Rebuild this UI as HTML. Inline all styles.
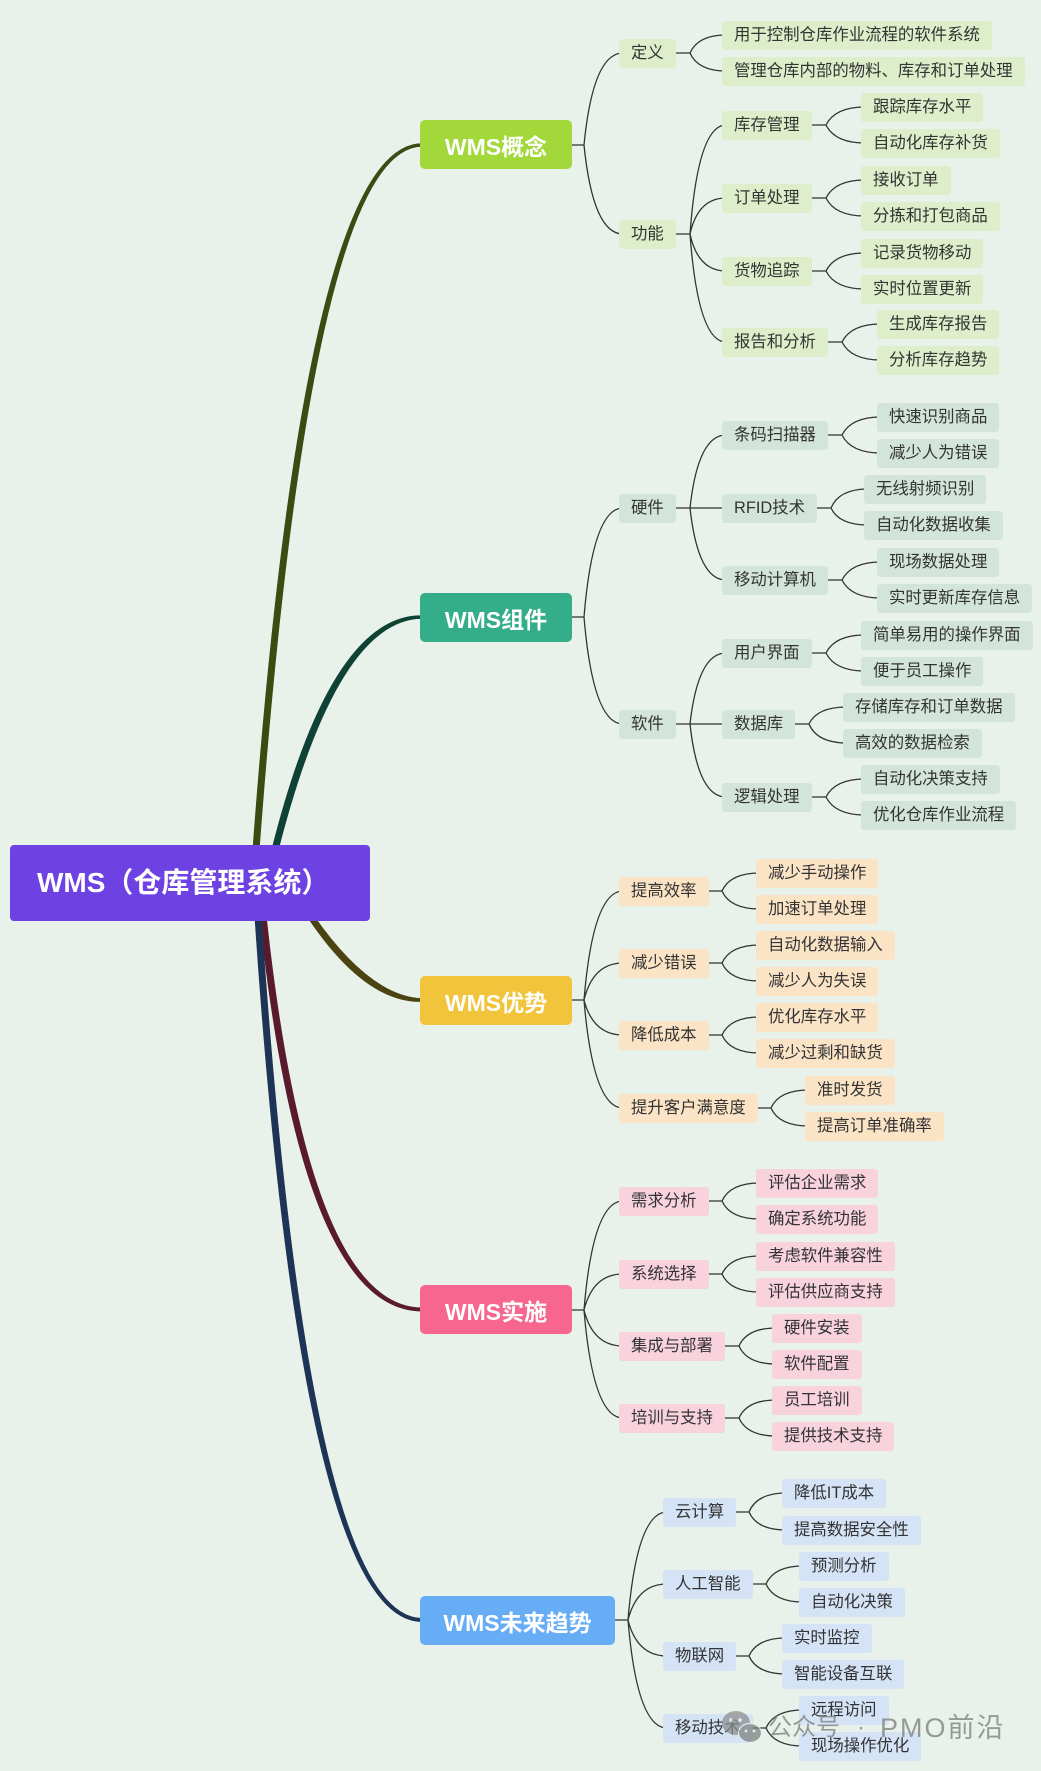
<!DOCTYPE html>
<html lang="zh">
<head>
<meta charset="utf-8">
<style>
  html,body{margin:0;padding:0;}
  body{width:1041px;height:1771px;background:#e9f2ea;position:relative;overflow:hidden;
       font-family:"Liberation Sans","Noto Sans CJK SC",sans-serif;}
  svg{position:absolute;left:0;top:0;}
  .n{position:absolute;height:29px;line-height:29px;padding:0 12px;font-size:16.4px;color:#333;
     border-radius:3px;white-space:nowrap;}
  .g{background:#deeecb;}
  .t{background:#d3e5db;}
  .y{background:#fbe4c6;}
  .p{background:#f8d3dd;}
  .b{background:#d5e3f6;}
  .m{position:absolute;left:420px;height:49px;border-radius:5px;color:#fff;font-weight:bold;
     font-size:23px;display:flex;align-items:center;justify-content:center;white-space:nowrap;}
  .root{position:absolute;left:10px;top:845px;width:333px;height:76px;padding-left:27px;
     background:#6e41e2;border-radius:4px;color:#fff;font-weight:bold;font-size:28px;
     line-height:76px;white-space:nowrap;}
  .wm{position:absolute;color:rgba(125,128,126,0.78);white-space:nowrap;line-height:30px;}
</style>
</head>
<body>
<svg width="1041" height="1771" viewBox="0 0 1041 1771">
  <!-- thick main branches -->
  <path d="M259.2 850.2 Q311.2 146.7 422 146.5 L422 143.5 Q304.8 143.3 252.8 849.8 Z" fill="#3d4a12" stroke="#3d4a12" stroke-width="0.6"/>
  <path d="M278.1 850.8 Q337.1 619.3 422 618.5 L422 615.5 Q330.9 614.7 271.9 849.2 Z" fill="#0e4234" stroke="#0e4234" stroke-width="0.6"/>
  <path d="M313.4 915.3 Q370.4 996.8 422 998.5 L422 1001.5 Q365.6 1003.2 308.6 918.7 Z" fill="#4b4312" stroke="#4b4312" stroke-width="0.6"/>
  <path d="M266.2 915.7 Q308.2 1307.2 422 1307.8 L422 1311.2 Q301.8 1311.0 259.8 916.3 Z" fill="#5a1a2e" stroke="#5a1a2e" stroke-width="0.6"/>
  <path d="M261.2 915.8 Q308.2 1618.3 422 1618.3 L422 1621.7 Q301.8 1621.9 254.8 916.2 Z" fill="#1e3456" stroke="#1e3456" stroke-width="0.6"/>

  <g fill="none" stroke="#333" stroke-width="1.3">
    <!-- 概念 -->
    <path d="M564 145H584 M584 145Q593 53 623 53 M584 145Q593 234 623 234"/>
    <path d="M668 53H690 M690 53Q698 35 726 35 M690 53Q698 71 726 71"/>
    <path d="M668 234H690 M690 234Q698 125 726 125 M690 234Q698 198 726 198 M690 234Q698 271 726 271 M690 234Q698 342 726 342"/>
    <path d="M804 125H826 M826 125Q835 107 865 107 M826 125Q835 143 865 143"/>
    <path d="M804 198H826 M826 198Q835 180 865 180 M826 198Q835 216 865 216"/>
    <path d="M804 271H826 M826 271Q835 253 865 253 M826 271Q835 289 865 289"/>
    <path d="M820 342H842 M842 342Q851 324 881 324 M842 342Q851 360 881 360"/>
    <!-- 组件 -->
    <path d="M564 617H584 M584 617Q593 508 623 508 M584 617Q593 724 623 724"/>
    <path d="M668 508H726 M690 508Q698 435 726 435 M690 508Q698 580 726 580"/>
    <path d="M820 435H842 M842 435Q851 417 881 417 M842 435Q851 453 881 453"/>
    <path d="M809 508H831 M831 508Q839 489 868 489 M831 508Q839 525 868 525"/>
    <path d="M820 580H842 M842 580Q851 562 881 562 M842 580Q851 598 881 598"/>
    <path d="M668 724H726 M690 724Q698 653 726 653 M690 724Q698 797 726 797"/>
    <path d="M804 653H826 M826 653Q835 635 865 635 M826 653Q835 671 865 671"/>
    <path d="M787 724H809 M809 724Q817 707 847 707 M809 724Q817 743 847 743"/>
    <path d="M804 797H826 M826 797Q835 779 865 779 M826 797Q835 815 865 815"/>
    <!-- 优势 -->
    <path d="M564 1000H584 M584 1000Q593 891 623 891 M584 1000Q593 963 623 963 M584 1000Q593 1035 623 1035 M584 1000Q593 1108 623 1108"/>
    <path d="M701 891H722 M722 891Q730 873 760 873 M722 891Q730 909 760 909"/>
    <path d="M701 963H722 M722 963Q730 945 760 945 M722 963Q730 981 760 981"/>
    <path d="M701 1035H722 M722 1035Q730 1017 760 1017 M722 1035Q730 1053 760 1053"/>
    <path d="M750 1108H771 M771 1108Q779 1090 809 1090 M771 1108Q779 1126 809 1126"/>
    <!-- 实施 -->
    <path d="M564 1310H584 M584 1310Q593 1201 623 1201 M584 1310Q593 1274 623 1274 M584 1310Q593 1346 623 1346 M584 1310Q593 1418 623 1418"/>
    <path d="M701 1201H722 M722 1201Q730 1183 760 1183 M722 1201Q730 1219 760 1219"/>
    <path d="M701 1274H722 M722 1274Q730 1256 760 1256 M722 1274Q730 1292 760 1292"/>
    <path d="M717 1346H739 M739 1346Q747 1328 776 1328 M739 1346Q747 1364 776 1364"/>
    <path d="M717 1418H739 M739 1418Q747 1400 776 1400 M739 1418Q747 1436 776 1436"/>
    <!-- 未来趋势 -->
    <path d="M607 1620H628 M628 1620Q637 1512 667 1512 M628 1620Q637 1584 667 1584 M628 1620Q637 1656 667 1656 M628 1620Q637 1728 667 1728"/>
    <path d="M728 1512H749 M749 1512Q757 1493 786 1493 M749 1512Q757 1530 786 1530"/>
    <path d="M745 1584H766 M766 1584Q774 1566 803 1566 M766 1584Q774 1602 803 1602"/>
    <path d="M728 1656H749 M749 1656Q757 1638 786 1638 M749 1656Q757 1674 786 1674"/>
    <path d="M745 1728H766 M766 1728Q774 1710 803 1710 M766 1728Q774 1746 803 1746"/>
  </g>
</svg>

<!-- root -->
<div class="root">WMS（仓库管理系统）</div>

<!-- main nodes -->
<div class="m" style="top:120px;width:152px;background:#a3d83b;">WMS概念</div>
<div class="m" style="top:593px;width:152px;background:#34ae89;">WMS组件</div>
<div class="m" style="top:976px;width:152px;background:#f1c43b;">WMS优势</div>
<div class="m" style="top:1285px;width:152px;background:#f6668f;">WMS实施</div>
<div class="m" style="top:1596px;width:195px;background:#67adf6;">WMS未来趋势</div>

<!-- 概念 -->
<div class="n g" style="left:619px;top:38.5px;">定义</div>
<div class="n g" style="left:619px;top:219.5px;">功能</div>
<div class="n g" style="left:722px;top:20.5px;">用于控制仓库作业流程的软件系统</div>
<div class="n g" style="left:722px;top:56.5px;">管理仓库内部的物料、库存和订单处理</div>
<div class="n g" style="left:722px;top:110.5px;">库存管理</div>
<div class="n g" style="left:722px;top:183.5px;">订单处理</div>
<div class="n g" style="left:722px;top:256.5px;">货物追踪</div>
<div class="n g" style="left:722px;top:327.5px;">报告和分析</div>
<div class="n g" style="left:861px;top:92.5px;">跟踪库存水平</div>
<div class="n g" style="left:861px;top:128.5px;">自动化库存补货</div>
<div class="n g" style="left:861px;top:165.5px;">接收订单</div>
<div class="n g" style="left:861px;top:201.5px;">分拣和打包商品</div>
<div class="n g" style="left:861px;top:238.5px;">记录货物移动</div>
<div class="n g" style="left:861px;top:274.5px;">实时位置更新</div>
<div class="n g" style="left:877px;top:309.5px;">生成库存报告</div>
<div class="n g" style="left:877px;top:345.5px;">分析库存趋势</div>

<!-- 组件 -->
<div class="n t" style="left:619px;top:493.5px;">硬件</div>
<div class="n t" style="left:619px;top:709.5px;">软件</div>
<div class="n t" style="left:722px;top:420.5px;">条码扫描器</div>
<div class="n t" style="left:722px;top:493.5px;">RFID技术</div>
<div class="n t" style="left:722px;top:565.5px;">移动计算机</div>
<div class="n t" style="left:877px;top:402.5px;">快速识别商品</div>
<div class="n t" style="left:877px;top:438.5px;">减少人为错误</div>
<div class="n t" style="left:864px;top:474.5px;">无线射频识别</div>
<div class="n t" style="left:864px;top:510.5px;">自动化数据收集</div>
<div class="n t" style="left:877px;top:547.5px;">现场数据处理</div>
<div class="n t" style="left:877px;top:583.5px;">实时更新库存信息</div>
<div class="n t" style="left:722px;top:638.5px;">用户界面</div>
<div class="n t" style="left:722px;top:709.5px;">数据库</div>
<div class="n t" style="left:722px;top:782.5px;">逻辑处理</div>
<div class="n t" style="left:861px;top:620.5px;">简单易用的操作界面</div>
<div class="n t" style="left:861px;top:656.5px;">便于员工操作</div>
<div class="n t" style="left:843px;top:692.5px;">存储库存和订单数据</div>
<div class="n t" style="left:843px;top:728.5px;">高效的数据检索</div>
<div class="n t" style="left:861px;top:764.5px;">自动化决策支持</div>
<div class="n t" style="left:861px;top:800.5px;">优化仓库作业流程</div>

<!-- 优势 -->
<div class="n y" style="left:619px;top:876.5px;">提高效率</div>
<div class="n y" style="left:619px;top:948.5px;">减少错误</div>
<div class="n y" style="left:619px;top:1020.5px;">降低成本</div>
<div class="n y" style="left:619px;top:1093.5px;">提升客户满意度</div>
<div class="n y" style="left:756px;top:858.5px;">减少手动操作</div>
<div class="n y" style="left:756px;top:894.5px;">加速订单处理</div>
<div class="n y" style="left:756px;top:930.5px;">自动化数据输入</div>
<div class="n y" style="left:756px;top:966.5px;">减少人为失误</div>
<div class="n y" style="left:756px;top:1002.5px;">优化库存水平</div>
<div class="n y" style="left:756px;top:1038.5px;">减少过剩和缺货</div>
<div class="n y" style="left:805px;top:1075.5px;">准时发货</div>
<div class="n y" style="left:805px;top:1111.5px;">提高订单准确率</div>

<!-- 实施 -->
<div class="n p" style="left:619px;top:1186.5px;">需求分析</div>
<div class="n p" style="left:619px;top:1259.5px;">系统选择</div>
<div class="n p" style="left:619px;top:1331.5px;">集成与部署</div>
<div class="n p" style="left:619px;top:1403.5px;">培训与支持</div>
<div class="n p" style="left:756px;top:1168.5px;">评估企业需求</div>
<div class="n p" style="left:756px;top:1204.5px;">确定系统功能</div>
<div class="n p" style="left:756px;top:1241.5px;">考虑软件兼容性</div>
<div class="n p" style="left:756px;top:1277.5px;">评估供应商支持</div>
<div class="n p" style="left:772px;top:1313.5px;">硬件安装</div>
<div class="n p" style="left:772px;top:1349.5px;">软件配置</div>
<div class="n p" style="left:772px;top:1385.5px;">员工培训</div>
<div class="n p" style="left:772px;top:1421.5px;">提供技术支持</div>

<!-- 未来趋势 -->
<div class="n b" style="left:663px;top:1497.5px;">云计算</div>
<div class="n b" style="left:663px;top:1569.5px;">人工智能</div>
<div class="n b" style="left:663px;top:1641.5px;">物联网</div>
<div class="n b" style="left:663px;top:1713.5px;">移动技术</div>
<div class="n b" style="left:782px;top:1478.5px;">降低IT成本</div>
<div class="n b" style="left:782px;top:1515.5px;">提高数据安全性</div>
<div class="n b" style="left:799px;top:1551.5px;">预测分析</div>
<div class="n b" style="left:799px;top:1587.5px;">自动化决策</div>
<div class="n b" style="left:782px;top:1623.5px;">实时监控</div>
<div class="n b" style="left:782px;top:1659.5px;">智能设备互联</div>
<div class="n b" style="left:799px;top:1695.5px;">远程访问</div>
<div class="n b" style="left:799px;top:1731.5px;">现场操作优化</div>

<!-- watermark -->
<svg width="1041" height="1771" viewBox="0 0 1041 1771" style="pointer-events:none">
  <g opacity="0.75">
    <ellipse cx="736" cy="1723" rx="14" ry="12" fill="#8c908e"/>
    <ellipse cx="750" cy="1733" rx="11.5" ry="9.5" fill="#7f8482" stroke="#e9f2ea" stroke-width="1.2"/>
    <circle cx="731" cy="1720" r="1.8" fill="#e9f2ea"/>
    <circle cx="740" cy="1720" r="1.8" fill="#e9f2ea"/>
    <circle cx="746" cy="1731" r="1.4" fill="#e9f2ea"/>
    <circle cx="754" cy="1731" r="1.4" fill="#e9f2ea"/>
  </g>
</svg>
<div class="wm" style="left:768px;top:1713px;font-size:24px;">公众号</div>
<div class="wm" style="left:857px;top:1713px;font-size:24px;">·</div>
<div class="wm" style="left:880px;top:1713px;font-size:27px;letter-spacing:2px;">PMO前沿</div>
</body>
</html>
